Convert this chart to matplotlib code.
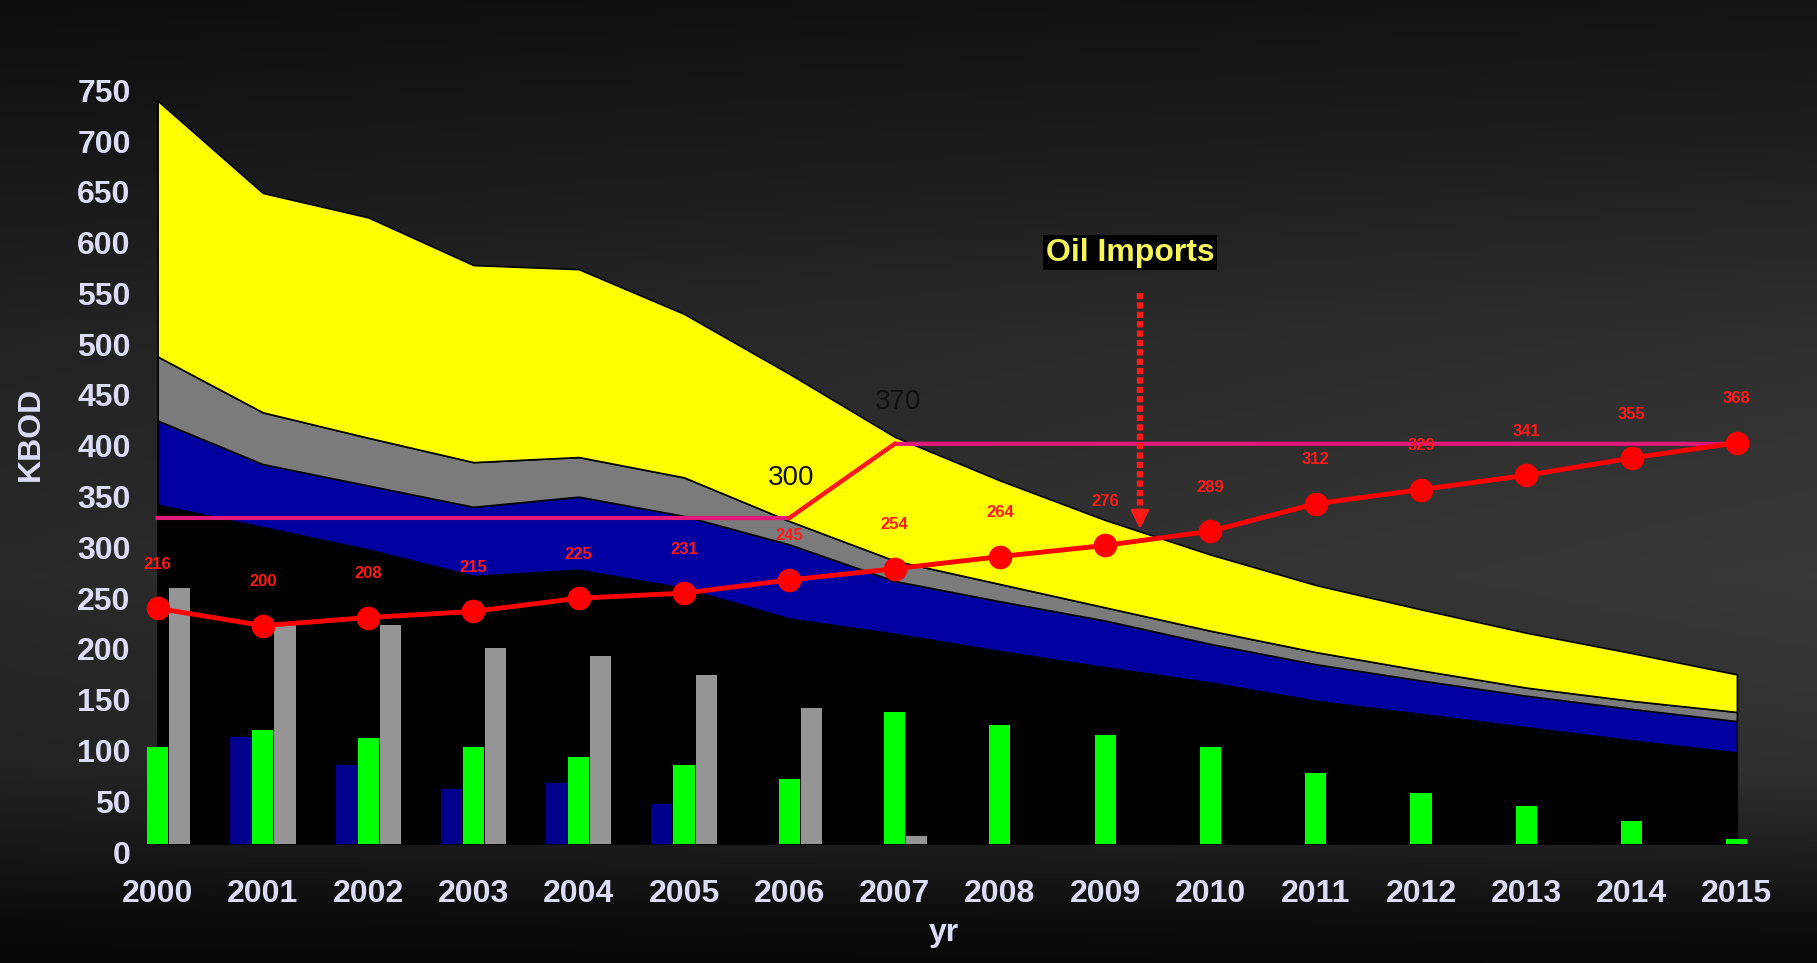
import numpy as np
import matplotlib.pyplot as plt
from matplotlib.transforms import ScaledTranslation

plt.rcParams['font.family'] = ['Liberation Sans', 'DejaVu Sans']

years = [str(y) for y in range(2000, 2016)]

# stacked areas (layer thickness, bottom to top)
black_base = [334, 312, 290, 264, 270, 252, 222, 207, 190, 174, 159, 141, 128, 115, 102, 90]
blue_area = [83, 62, 63, 68, 72, 71, 73, 52, 49, 46, 38, 36, 33, 31, 31, 31]
gray_area = [63, 51, 47, 44, 39, 38, 23, 20, 17, 13, 13, 12, 10, 8, 8, 9]
yellow_area = [252, 216, 217, 194, 185, 161, 145, 122, 102, 86, 75, 66, 60, 54, 47, 37]

# bars
blue_bars = [0, 105, 78, 54, 60, 39, 0, 0, 0, 0, 0, 0, 0, 0, 0, 0]
green_bars = [96, 112, 104, 96, 86, 78, 64, 130, 117, 107, 96, 70, 50, 37, 23, 5]
gray_bars = [252, 216, 216, 193, 185, 166, 134, 8, 0, 0, 0, 0, 0, 0, 0, 0]

# lines
pink_line = [321, 321, 321, 321, 321, 321, 321, 394, 394, 394, 394, 394, 394, 394, 394, 394]
red_line = [232, 215, 223, 229, 242, 247, 260, 271, 283, 294, 308, 335, 349, 363, 380, 395]
red_labels = ['216', '200', '208', '215', '225', '231', '245', '254', '264',
              '276', '289', '312', '329', '341', '355', '368']
y_ticks = list(range(0, 751, 50))

fig = plt.figure(figsize=(18.17, 9.63), dpi=100)

# dark gradient background
bg = fig.add_axes([0, 0, 1, 1], zorder=-10)
bg.axis('off')
ys = np.linspace(0, 1, 300)
xs = np.linspace(0, 1, 300)
col = np.interp(ys, [0, 0.08, 0.35, 0.6, 0.8, 0.9, 0.96, 1],
                [0.07, 0.09, 0.17, 0.2, 0.17, 0.1, 0.05, 0.03])
shade = np.clip(col[:, None] * (0.8 + 0.3 * xs[None, :]), 0, 1)
bg.imshow(np.dstack([shade, shade, shade]), aspect='auto', extent=[0, 1, 0, 1])

ax = fig.add_axes([146 / 1817, 119 / 963, 1633 / 1817, 761.7 / 963])
ax.set_facecolor('none')
x = np.arange(len(years))

ax.stackplot(x, black_base, blue_area, gray_area, yellow_area,
             colors=['#000000', '#0000a0', '#7b7b7b', '#ffff00'],
             edgecolor='black', linewidth=1.2, zorder=1)

w = 0.2
ax.bar(x - 0.21, blue_bars, w, color='#00008c', zorder=2)
ax.bar(x, green_bars, w, color='#00ff00', zorder=2)
ax.bar(x + 0.21, gray_bars, w, color='#959595', zorder=2)

ax.plot(x, pink_line, color='#e2197a', lw=3, zorder=3)
ax.plot(x[6:8], pink_line[6:8], color='#ff1a1a', lw=3, zorder=3)
ax.plot(x, red_line, color='#ff0000', lw=3.5, marker='o', ms=16, zorder=4)

for xi, yi, lab in zip(x, red_line, red_labels):
    ax.annotate(lab, (xi, yi), xytext=(0, 44), textcoords='offset pixels',
                ha='center', va='center', color='#ff1a1a', fontsize=12,
                fontweight='bold', zorder=5)

ax.annotate('300', (6, pink_line[6]), xytext=(2, 40), textcoords='offset pixels',
            ha='center', va='center', fontsize=20, color='#111111', zorder=5)
ax.annotate('370', (7, pink_line[7]), xytext=(3, 42), textcoords='offset pixels',
            ha='center', va='center', fontsize=20, color='#111111', zorder=5)

# oil imports arrow
arrow_x = 9.33
tip = np.interp(arrow_x, x, red_line) + 9
tail = 543
ax.plot([arrow_x, arrow_x], [tail, tip + 20], color='#ff1a1a', lw=4.5,
        ls=(0, (1.0, 0.5)), zorder=5)
ax.annotate('', xy=(arrow_x, tip), xytext=(arrow_x, tip + 22),
            arrowprops=dict(arrowstyle='-|>', color='#ff1a1a', lw=2,
                            mutation_scale=28), zorder=5)
ax.annotate('Oil Imports', (arrow_x, tail), xytext=(-10, 40), textcoords='offset pixels',
            ha='center', va='center', fontsize=23, fontweight='bold', color='#f5f55a',
            bbox=dict(facecolor='black', edgecolor='none', pad=2), zorder=6)

ax.set_xlim(-0.11, 15.4)
ax.set_ylim(0, 750)
ax.set_xticks(x)
ax.set_xticklabels(years)
ax.set_yticks(y_ticks)
for s in ax.spines.values():
    s.set_visible(False)
ax.tick_params(axis='both', length=0, colors='#dcdcf5', labelsize=23)
ax.tick_params(axis='x', pad=25)
ax.tick_params(axis='y', pad=11)
for lab in ax.get_xticklabels() + ax.get_yticklabels():
    lab.set_fontweight('bold')
for lab in ax.get_yticklabels():
    lab.set_transform(lab.get_transform() + ScaledTranslation(0, -8 / 100, fig.dpi_scale_trans))

ax.set_xlabel('yr', fontsize=23, fontweight='bold', color='#dcdcf5')
ax.set_ylabel('KBOD', fontsize=23, fontweight='bold', color='#dcdcf5')
ax.xaxis.set_label_coords(0.4887, -0.1168)
ax.xaxis.label.set_va('center')
ax.yaxis.set_label_coords(-0.0704, 0.538)
ax.yaxis.label.set_va('center')

fig.savefig('out.png', dpi=100)
